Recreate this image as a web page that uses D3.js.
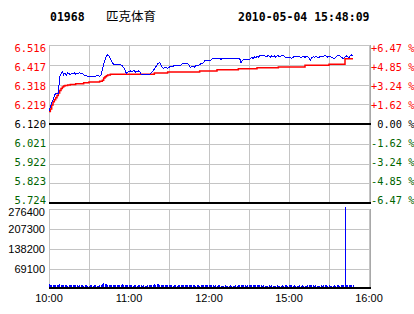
<!DOCTYPE html>
<html>
<head>
<meta charset="utf-8">
<script src="https://cdn.jsdelivr.net/npm/d3@7"></script>
<style>
  html, body { margin: 0; padding: 0; background: #fff; }
  svg { display: block; }
  .mono { font-family: "DejaVu Sans Mono", "Liberation Mono", monospace; white-space: pre; }
  .sans { font-family: "Liberation Sans", Arial, sans-serif; }
</style>
</head>
<body>
<svg id="chart" width="414" height="314"></svg>
<script>
// ---- data ----
const stockCode = '01968';
const stockName = '匹克体育';
const stamp = '2010-05-04 15:48:09';
const preClose = 6.12;

// trading minutes since 10:00 (12:30-14:30 lunch removed)
const timeTicks = [0, 60, 120, 180, 240];
const timeLabels = ['10:00', '11:00', '12:00', '15:00', '16:00'];
const gridMinutes = [0, 30, 60, 90, 120, 150, 180, 210, 240];

const priceTicks = [6.516, 6.417, 6.318, 6.219, 6.120, 6.021, 5.922, 5.823, 5.724];
const pctLabels = ['+6.47 %', '+4.85 %', '+3.24 %', '+1.62 %', ' 0.00 %',
  '-1.62 %', '-3.24 %', '-4.85 %', '-6.47 %'];
const volTicks = [276400, 207300, 138200, 69100];

// one price per minute, from 10:00
const price = [
  6.183, 6.205, 6.228, 6.242, 6.262, 6.272, 6.275, 6.275, 6.355, 6.372,
  6.382, 6.367, 6.377, 6.365, 6.375, 6.372, 6.367, 6.375, 6.370, 6.377,
  6.370, 6.375, 6.372, 6.377, 6.370, 6.375, 6.367, 6.362, 6.362, 6.360,
  6.357, 6.357, 6.357, 6.357, 6.357, 6.360, 6.362, 6.362, 6.360, 6.365,
  6.392, 6.420, 6.442, 6.462, 6.467, 6.460, 6.447, 6.432, 6.422, 6.417,
  6.417, 6.417, 6.420, 6.417, 6.417, 6.412, 6.402, 6.390, 6.375, 6.380,
  6.385, 6.386, 6.382, 6.386, 6.386, 6.380, 6.382, 6.386, 6.382, 6.370,
  6.367, 6.367, 6.367, 6.367, 6.367, 6.369, 6.372, 6.377, 6.385, 6.395,
  6.405, 6.415, 6.425, 6.427, 6.415, 6.402, 6.397, 6.405, 6.402, 6.397,
  6.405, 6.407, 6.407, 6.410, 6.412, 6.412, 6.412, 6.412, 6.412, 6.415,
  6.422, 6.425, 6.425, 6.425, 6.422, 6.415, 6.405, 6.407, 6.410, 6.405,
  6.412, 6.415, 6.415, 6.417, 6.422, 6.422, 6.430, 6.439, 6.439, 6.439,
  6.439, 6.439, 6.445, 6.449, 6.449, 6.449, 6.449, 6.449, 6.449, 6.444,
  6.449, 6.449, 6.449, 6.449, 6.449, 6.449, 6.449, 6.449, 6.449, 6.449,
  6.449, 6.449, 6.449, 6.449, 6.427, 6.437, 6.442, 6.442, 6.442, 6.442,
  6.442, 6.447, 6.455, 6.449, 6.457, 6.452, 6.460, 6.455, 6.462, 6.462,
  6.462, 6.462, 6.462, 6.457, 6.462, 6.462, 6.455, 6.462, 6.457, 6.462,
  6.455, 6.462, 6.462, 6.457, 6.462, 6.462, 6.462, 6.455, 6.452, 6.452,
  6.452, 6.455, 6.448, 6.455, 6.457, 6.457, 6.457, 6.457, 6.457, 6.452,
  6.457, 6.457, 6.455, 6.457, 6.457, 6.452, 6.440, 6.452, 6.457, 6.455,
  6.457, 6.457, 6.452, 6.457, 6.457, 6.457, 6.460, 6.465, 6.460, 6.455,
  6.457, 6.457, 6.455, 6.452, 6.447, 6.455, 6.462, 6.462, 6.462, 6.457,
  6.452, 6.447, 6.457, 6.462, 6.457, 6.452, 6.462, 6.467, 6.462,
];

// average price: minute where it changes, and its value
const avgMinutes = [0, 1, 2, 3, 4, 5, 6, 7, 8, 9, 10, 11, 12, 14, 16, 20, 26, 30, 38,
  40, 41, 42, 43, 44, 46, 79, 89, 113, 126, 142, 156, 172, 192, 210, 222, 228];
const avgPrice = [6.183, 6.195, 6.215, 6.232, 6.242, 6.252, 6.263, 6.276, 6.288, 6.298,
  6.305, 6.310, 6.313, 6.316, 6.318, 6.322, 6.327, 6.331, 6.334,
  6.339, 6.351, 6.357, 6.362, 6.366, 6.369, 6.376, 6.381, 6.386, 6.392, 6.397,
  6.402, 6.406, 6.414, 6.419, 6.447, 6.447];

// volume per minute
const volume = [
  9000, 8000, 7500, 6000, 7000, 6500, 5500, 8000, 9500, 7000, 6000, 5500, 6500, 7000, 5000, 6000, 6500, 5500, 7000, 6000,
  5500, 6000, 5000, 6500, 5500, 6000, 5000, 5500, 6000, 5000, 4500, 5500, 6000, 5000, 5500, 6000, 5000, 4500, 5500, 7000,
  10500, 12500, 11000, 9000, 8500, 7500, 7000, 6500, 6000, 5500, 6000, 7000, 6000, 8000, 7500, 9500, 7000, 8500, 6500, 7000,
  6000, 5500, 6500, 5000, 6000, 5500, 5000, 6000, 5500, 6500, 5000, 5500, 4500, 5000, 5500, 6000, 6500, 7000, 8000, 9000,
  8500, 9500, 10000, 8000, 7500, 7000, 6500, 7000, 6000, 6500, 5500, 6000, 5500, 5000, 6000, 5500, 5000, 6500, 5500, 6000,
  6500, 7000, 6000, 5500, 6000, 6500, 7000, 6000, 5500, 6000, 5000, 5500, 6000, 5000, 5500, 6500, 7500, 7000, 6000, 6500,
  6000, 6500, 6000, 5500, 5000, 5500, 5000, 6000, 5500, 5000, 4500, 5000, 5500, 5000, 4500, 5000, 5500, 5000, 4500, 5000,
  5500, 5000, 5500, 6000, 7000, 6500, 5500, 6000, 5000, 5500, 6000, 6500, 7000, 6500, 6000, 6500, 7000, 6500, 6000, 5500,
  5000, 5500, 5000, 4500, 5000, 5500, 5000, 5500, 5000, 4500, 5000, 5500, 5000, 4500, 5000, 5500, 5000, 6000, 5500, 5000,
  5500, 6000, 5500, 5000, 5500, 5000, 4500, 5000, 5500, 5000, 5500, 5000, 4500, 5000, 5500, 6500, 7000, 6000, 5500, 5000,
  5500, 5000, 4500, 5000, 5500, 5000, 5500, 6000, 5500, 5000, 5500, 5000, 4500, 5000, 5500, 5000, 6000, 5500, 5000, 5500,
  6000, 6500, 276400, 6000, 5500, 6000, 5500, 6500, 6000,
];

// ---- drawing ----
const svg = d3.select('#chart');
const left = 49;
const right = 369;
const frameRight = 370.5;
const priceTop = 45;
const priceBottom = 203;
const volTop = 209;
const volBottom = 289;

const gridColor = '#c4c4c4';
const upColor = '#ff0000';
const downColor = '#006400';

const x = d3.scaleLinear().domain([0, 240]).range([left, right]);
const y = d3.scaleLinear().domain([5.724, 6.516]).range([priceBottom, priceTop]);
const yv = d3.scaleLinear().domain([0, 276400]).range([volBottom, volTop]);
// tick labels sit a little off their lines in the original
const labelY = d3.scaleLinear().domain([6.516, 5.724]).range([52, 203.5]);

const px = (v) => Math.round(v) + 0.5;

// grids
const grid = svg.append('g').attr('shape-rendering', 'crispEdges').attr('stroke', gridColor);
grid.selectAll('.vg')
  .data(gridMinutes)
  .join('line')
  .attr('x1', (d) => px(x(d))).attr('x2', (d) => px(x(d)))
  .attr('y1', priceTop).attr('y2', priceBottom);
grid.selectAll('.vvg')
  .data(gridMinutes)
  .join('line')
  .attr('x1', (d) => px(x(d))).attr('x2', (d) => px(x(d)))
  .attr('y1', volTop).attr('y2', volBottom - 1);
grid.selectAll('.hg')
  .data(priceTicks.filter((d) => d !== preClose && d !== 5.724))
  .join('line')
  .attr('x1', left).attr('x2', frameRight)
  .attr('y1', (d) => px(y(d))).attr('y2', (d) => px(y(d)));
grid.selectAll('.hvg')
  .data(volTicks)
  .join('line')
  .attr('x1', left).attr('x2', frameRight)
  .attr('y1', (d) => px(yv(d))).attr('y2', (d) => px(yv(d)));

// right frame edges
svg.append('g').attr('shape-rendering', 'crispEdges').attr('stroke', '#a8a8a8')
  .selectAll('line')
  .data([[priceTop, priceBottom], [volTop, volBottom - 1]])
  .join('line')
  .attr('x1', frameRight).attr('x2', frameRight)
  .attr('y1', (d) => d[0]).attr('y2', (d) => d[1]);

// black base lines
svg.append('g').attr('shape-rendering', 'crispEdges').attr('stroke', '#000').attr('stroke-width', 2)
  .selectAll('line')
  .data([y(preClose), y(5.724), yv(0) - 1])
  .join('line')
  .attr('x1', left).attr('x2', frameRight + 0.5)
  .attr('y1', (d) => Math.round(d)).attr('y2', (d) => Math.round(d));

// volume bars, standing on the base line
svg.append('g').attr('shape-rendering', 'crispEdges')
  .selectAll('rect')
  .data(volume)
  .join('rect')
  .attr('x', (d, i) => Math.floor(x(i)))
  .attr('width', 1)
  .attr('y', (d) => Math.round(yv(d)) - 2)
  .attr('height', (d) => Math.round(yv(0) - yv(d)))
  .attr('fill', '#0000ff');

// average line
const avgLine = d3.line()
  .x((d, i) => x(avgMinutes[i]))
  .y((d) => y(d))
  .curve(d3.curveStepAfter);
svg.append('path')
  .attr('d', avgLine(avgPrice))
  .attr('fill', 'none')
  .attr('stroke', upColor)
  .attr('stroke-width', 1.5);

// price line
const priceLine = d3.line()
  .x((d, i) => x(i))
  .y((d) => y(d));
svg.append('path')
  .attr('d', priceLine(price))
  .attr('fill', 'none')
  .attr('stroke', '#0000ff')
  .attr('stroke-width', 1)
  .attr('shape-rendering', 'crispEdges');

// price labels, left and right
const colorFor = (d) => (d > preClose ? upColor : d < preClose ? downColor : '#000');
svg.append('g').attr('class', 'mono').attr('font-size', 10.5)
  .selectAll('text')
  .data(priceTicks)
  .join('text')
  .attr('x', 46)
  .attr('y', (d) => labelY(d))
  .attr('text-anchor', 'end')
  .attr('fill', colorFor)
  .text((d) => d.toFixed(3));
svg.append('g').attr('class', 'mono').attr('font-size', 10.3)
  .selectAll('text')
  .data(priceTicks)
  .join('text')
  .attr('xml:space', 'preserve')
  .attr('x', 371)
  .attr('y', (d) => labelY(d))
  .attr('fill', colorFor)
  .text((d, i) => pctLabels[i]);

// volume labels
svg.append('g').attr('class', 'sans').attr('font-size', 11)
  .selectAll('text')
  .data(volTicks)
  .join('text')
  .attr('x', 45)
  .attr('y', (d) => Math.max(yv(d) + 4, 216))
  .attr('text-anchor', 'end')
  .attr('fill', '#000')
  .text((d) => d);

// time labels
svg.append('g').attr('class', 'sans').attr('font-size', 11)
  .selectAll('text')
  .data(timeTicks)
  .join('text')
  .attr('x', (d) => x(d))
  .attr('y', 302)
  .attr('text-anchor', 'middle')
  .attr('fill', '#000')
  .text((d, i) => timeLabels[i]);

// header
svg.append('text').attr('class', 'mono').attr('font-size', 11.5).attr('font-weight', 'bold')
  .attr('x', 50).attr('y', 21).text(stockCode);
svg.append('text').attr('font-family', '"Noto Sans CJK SC", sans-serif').attr('font-size', 12.5)
  .attr('x', 106).attr('y', 20.5).text(stockName);
svg.append('text').attr('class', 'mono').attr('font-size', 11.5).attr('font-weight', 'bold')
  .attr('x', 238).attr('y', 21).text(stamp);
</script>
</body>
</html>
